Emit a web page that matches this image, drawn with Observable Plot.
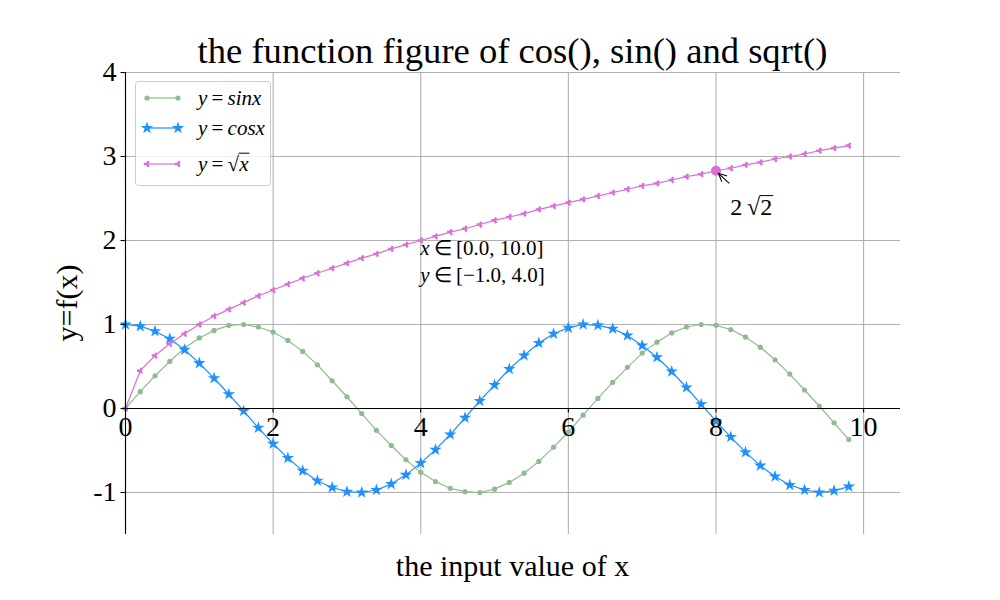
<!DOCTYPE html>
<html><head><meta charset="utf-8">
<script src="https://cdn.jsdelivr.net/npm/d3@7"></script>
<script src="https://cdn.jsdelivr.net/npm/@observablehq/plot@0.6"></script>
<style>
body{margin:0;background:#fff;}
#chart{width:1000px;height:600px;}
svg{font-family:"Liberation Serif","Times New Roman",serif;}
</style>
</head><body><div id="chart"></div>
<script>
// ---- data ----
const xs = [0,0.2,0.4,0.6,0.8,1.0,1.2,1.4,1.6,1.8,2.0,2.2,2.4,2.6,2.8,3.0,3.2,3.4,3.6,3.8,
            4.0,4.2,4.4,4.6,4.8,5.0,5.2,5.4,5.6,5.8,6.0,6.2,6.4,6.6,6.8,7.0,7.2,7.4,7.6,7.8,
            8.0,8.2,8.4,8.6,8.8,9.0,9.2,9.4,9.6,9.8];
const sinValues = [0.00,0.20,0.39,0.56,0.72,0.84,0.93,0.99,1.00,0.97,0.91,0.81,0.68,0.52,0.33,0.14,-0.06,-0.26,-0.44,-0.61,
                   -0.76,-0.87,-0.95,-0.99,-1.00,-0.96,-0.88,-0.77,-0.63,-0.46,-0.28,-0.08,0.12,0.31,0.49,0.66,0.79,0.90,0.97,1.00,
                   0.99,0.94,0.85,0.73,0.58,0.41,0.22,0.03,-0.17,-0.37];
const cosValues = [1.00,0.98,0.92,0.83,0.70,0.54,0.36,0.17,-0.03,-0.23,-0.42,-0.59,-0.74,-0.86,-0.94,-0.99,-1.00,-0.97,-0.90,-0.79,
                   -0.65,-0.49,-0.31,-0.11,0.09,0.28,0.47,0.63,0.78,0.89,0.96,1.00,0.99,0.95,0.87,0.75,0.61,0.44,0.25,0.05,
                   -0.15,-0.34,-0.52,-0.68,-0.81,-0.91,-0.97,-1.00,-0.98,-0.93];
const sqrtValues = [0.00,0.45,0.63,0.77,0.89,1.00,1.10,1.18,1.26,1.34,1.41,1.48,1.55,1.61,1.67,1.73,1.79,1.84,1.90,1.95,
                    2.00,2.05,2.10,2.14,2.19,2.24,2.28,2.32,2.37,2.41,2.45,2.49,2.53,2.57,2.61,2.65,2.68,2.72,2.76,2.79,
                    2.83,2.86,2.90,2.93,2.97,3.00,3.03,3.07,3.10,3.13];
const xTicks = [0,2,4,6,8,10];
const xTickLabels = ["0","2","4","6","8","10"];
const yTicks = [-1,0,1,2,3,4];
const yTickLabels = ["-1","0","1","2","3","4"];
const highlight = [{x: 8, y: 2.83}];
const highlightTextPos = {x: 8.2, y: 2.4};
const rangeTextPos = {x: 4, y: 2};
const titleText = "the function figure of cos(), sin() and sqrt()";
const xLabelText = "the input value of x";
const yLabelText = "y=f(x)";
const xDomain = [0, 10.5];
const yDomain = [-1.5, 4];

const cGreen = "#8fbc8f", cBlue = "#1e90ff", cPink = "#da70d6";

const sinData = xs.map((x, i) => ({x, y: sinValues[i]}));
const cosData = xs.map((x, i) => ({x, y: cosValues[i]}));
const sqrtData = xs.map((x, i) => ({x, y: sqrtValues[i]}));
const xTickData = xTicks.map((t, i) => ({t, label: xTickLabels[i]}));
const yTickData = yTicks.map((t, i) => ({t, label: yTickLabels[i]}));

const W = 1000, H = 600, ML = 125, MR = 100, MT = 72, MB = 66;
const gridStyle = {stroke: "#b0b0b0", strokeWidth: 1.1};
const rStar = 3.9, rDot = 2.6, rWye = 2.6;

const plot = Plot.plot({
  width: W, height: H,
  marginLeft: ML, marginRight: MR, marginTop: MT, marginBottom: MB,
  x: {domain: xDomain, axis: null},
  y: {domain: yDomain, axis: null},
  style: {fontFamily: "'Liberation Serif', 'Times New Roman', serif", background: "#fff"},
  marks: [
    Plot.ruleX(xTicks, {x: d => d, ...gridStyle}),
    Plot.ruleY(yTicks, {y: d => d, ...gridStyle}),
    Plot.line(sinData, {x: "x", y: "y", stroke: cGreen, strokeWidth: 1.2}),
    Plot.dot(sinData, {x: "x", y: "y", r: rDot, fill: cGreen}),
    Plot.line(cosData, {x: "x", y: "y", stroke: cBlue, strokeWidth: 1.2}),
    Plot.dot(cosData, {x: "x", y: "y", r: rStar, symbol: "star", fill: cBlue}),
    Plot.line(sqrtData, {x: "x", y: "y", stroke: cPink, strokeWidth: 1.2}),
    Plot.dot(sqrtData, {x: "x", y: "y", r: rWye, symbol: "wye", rotate: 90, fill: cPink}),
    Plot.dot(highlight, {x: "x", y: "y", r: 5, fill: cPink}),
    // spines at zero
    Plot.ruleX([0], {x: d => d, stroke: "#000", strokeWidth: 1.1}),
    Plot.ruleY([0], {y: d => d, stroke: "#000", strokeWidth: 1.1}),
    // tick marks
    Plot.ruleX(xTicks, {x: d => d, y1: 0, y2: 0, insetBottom: -4.5, stroke: "#000", strokeWidth: 1.1}),
    Plot.ruleY(yTicks, {y: d => d, x1: 0, x2: 0, insetLeft: -4.5, stroke: "#000", strokeWidth: 1.1}),
    // tick labels
    Plot.text(xTickData, {x: "t", y: 0, text: "label", dy: 8, lineAnchor: "top", fontSize: 28, fill: "#000"}),
    Plot.text(yTickData, {x: 0, y: "t", text: "label", dx: -9, textAnchor: "end", fontSize: 28, fill: "#000"})
  ]
});
document.getElementById("chart").appendChild(plot);

const svg = d3.select(plot);
const sx = plot.scale("x"), sy = plot.scale("y");
const px = v => sx.apply(v), py = v => sy.apply(v);

// title and axis labels
svg.append("text").attr("x", (ML + W - MR) / 2).attr("y", 63).attr("text-anchor", "middle")
  .attr("font-size", 36.6).attr("fill", "#000").text(titleText);
svg.append("text").attr("x", (ML + W - MR) / 2).attr("y", 576).attr("text-anchor", "middle")
  .attr("font-size", 30).attr("fill", "#000").text(xLabelText);
svg.append("text").attr("transform", `translate(77,${(MT + H - MB) / 2}) rotate(-90)`).attr("text-anchor", "middle")
  .attr("font-size", 30).attr("fill", "#000").text(yLabelText);

// helper: radical sign with a vinculum over the radicand
function radical(textSel, before, radicand, italic) {
  textSel.append("tspan").text(before + "\u221A");
  const rs = textSel.append("tspan").text(radicand);
  if (italic) rs.attr("font-style", "italic");
  return rs;
}
function addVinculum(textNode, fontSize) {
  // draw a line over the last character, from the top of the radical sign
  const n = textNode.getNumberOfChars();
  const ext = textNode.getExtentOfChar(n - 1);
  const rad = textNode.getExtentOfChar(n - 2);
  svg.append("line").attr("x1", rad.x + rad.width - 0.5).attr("x2", ext.x + ext.width + 1)
    .attr("y1", rad.y + 1.2).attr("y2", rad.y + 1.2).attr("stroke", "#000").attr("stroke-width", 1);
}

// range annotation
const rt = svg.append("text").attr("font-size", 21).attr("fill", "#000").attr("text-anchor", "start");
const rx0 = px(rangeTextPos.x), ry0 = py(rangeTextPos.y);
const l1 = rt.append("tspan").attr("x", rx0).attr("y", ry0 + 15);
l1.append("tspan").attr("font-style", "italic").text("x");
l1.append("tspan").text("\u2009\u2208\u2009[0.0, 10.0]");
const l2 = rt.append("tspan").attr("x", rx0).attr("y", ry0 + 42);
l2.append("tspan").attr("font-style", "italic").text("y");
l2.append("tspan").text("\u2009\u2208\u2009[\u22121.0, 4.0]");

// 2√2 annotation with arrow
const hx = px(highlight[0].x), hy = py(highlight[0].y);
const tx = px(highlightTextPos.x), ty = py(highlightTextPos.y);
const ann = svg.append("text").attr("x", tx).attr("y", ty + 9).attr("font-size", 24).attr("fill", "#000").attr("text-anchor", "start");
radical(ann, "2\u2009", "2", false);
addVinculum(ann.node(), 24);
const ax2 = hx + 3, ay2 = hy + 3, ax1 = tx - 1, ay1 = hy + 13;
svg.append("line").attr("x1", ax1).attr("y1", ay1).attr("x2", ax2).attr("y2", ay2)
  .attr("stroke", "#000").attr("stroke-width", 1.1);
{
  const ang = Math.atan2(ay2 - ay1, ax2 - ax1), L = 9, a = 0.45;
  const p1 = [ax2 - L * Math.cos(ang - a), ay2 - L * Math.sin(ang - a)];
  const p2 = [ax2 - L * Math.cos(ang + a), ay2 - L * Math.sin(ang + a)];
  svg.append("path").attr("d", `M${p1}L${ax2},${ay2}L${p2}`).attr("fill", "none")
    .attr("stroke", "#000").attr("stroke-width", 1.1);
}

// legend
const lg = svg.append("g");
lg.append("rect").attr("x", 135.5).attr("y", 81.5).attr("width", 135).attr("height", 104).attr("rx", 3)
  .attr("fill", "#fff").attr("fill-opacity", 0.8).attr("stroke", "#cccccc").attr("stroke-width", 1);
const rows = [
  {cy: 98, color: cGreen, sym: "circle", r: rDot, fn: "sinx"},
  {cy: 128, color: cBlue, sym: "star", r: rStar, fn: "cosx"},
  {cy: 164, color: cPink, sym: "wye", r: rWye, fn: "sqrt"}
];
const symMap = {circle: d3.symbolCircle, star: d3.symbolStar, wye: d3.symbolWye};
rows.forEach(r => {
  lg.append("line").attr("x1", 147).attr("x2", 178).attr("y1", r.cy).attr("y2", r.cy)
    .attr("stroke", r.color).attr("stroke-width", 1.2);
  [147, 178].forEach(mx => {
    lg.append("path").attr("d", d3.symbol(symMap[r.sym], Math.PI * r.r * r.r)())
      .attr("transform", `translate(${mx},${r.cy})` + (r.sym === "wye" ? " rotate(90)" : ""))
      .attr("fill", r.color);
  });
  const t = lg.append("text").attr("x", 198).attr("y", r.cy + 7).attr("font-size", 21).attr("fill", "#000").attr("text-anchor", "start");
  t.append("tspan").attr("font-style", "italic").text("y");
  t.append("tspan").text("\u2009=\u2009");
  if (r.fn === "sqrt") {
    radical(t, "", "x", true);
    addVinculum(t.node(), 21);
  } else {
    t.append("tspan").attr("font-style", "italic").text(r.fn);
  }
});
</script>
</body></html>
